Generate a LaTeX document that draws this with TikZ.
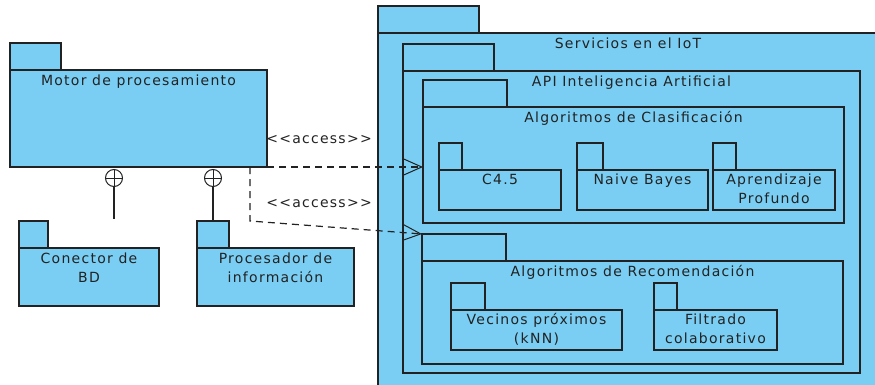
\documentclass[tikz,border=0pt]{standalone}
\usepackage{fontspec}
\setmainfont[LetterSpace=9]{DejaVu Sans}
\usetikzlibrary{arrows.meta, positioning}

\definecolor{pkgblue}{RGB}{122,206,243}
\definecolor{pkgline}{RGB}{34,34,34}

\begin{document}
\begin{tikzpicture}[
    x=1pt, y=-1pt,
    every node/.style={font=\fontsize{14}{19}\selectfont, text=pkgline},
    pkgbody/.style={
        rectangle,
        draw=pkgline,
        fill=pkgblue,
        line width=1.2pt,
        anchor=north west,
        inner sep=0pt,
        outer sep=0pt
    },
    pkgtab/.style={
        rectangle,
        draw=pkgline,
        fill=pkgblue,
        line width=1.2pt,
        anchor=south west,
        inner sep=0pt,
        outer sep=0pt,
        minimum height=27pt
    },
    pkgname/.style={
        anchor=north,
        align=center,
        inner sep=0pt,
        yshift=-4.5pt
    },
    nestcirc/.style={
        circle,
        draw=pkgline,
        line width=1pt,
        minimum size=17pt,
        inner sep=0pt,
        path picture={
            \draw[line width=1pt] (path picture bounding box.north) -- (path picture bounding box.south);
            \draw[line width=1pt] (path picture bounding box.west) -- (path picture bounding box.east);
        }
    },
    access/.style={
        -{Straight Barb[length=18pt, width=16pt, line width=1pt]},
        draw=pkgline,
        line width=1.2pt,
        dash pattern=on 7pt off 5pt
    }
]
\useasboundingbox (0,0) rectangle (875,385);

% left side
\node[pkgbody, minimum width=257pt, minimum height=97pt] (motor) at (10,70) {};
\node[pkgtab, minimum width=51pt] (motor-tab) at (motor.north west) {};
\node[pkgname] (motor-name) at (motor.north) {Motor de procesamiento};

\node[pkgbody, minimum width=140pt, minimum height=58pt] (conector) at (19,248) {};
\node[pkgtab, minimum width=29pt] (conector-tab) at (conector.north west) {};
\node[pkgname] (conector-name) at (conector.north) {Conector de\\BD};

\node[pkgbody, minimum width=157pt, minimum height=58pt] (proc) at (197,248) {};
\node[pkgtab, minimum width=32pt] (proc-tab) at (proc.north west) {};
\node[pkgname] (proc-name) at (proc.north) {Procesador de\\información};

\node[nestcirc] (circ1) at (114,178) {};
\node[nestcirc] (circ2) at (213,178) {};
\coordinate (circ1-end) at (114,219);
\draw[line width=1.2pt, pkgline] (circ1.south) -- (circ1-end);
\draw[line width=1.2pt, pkgline] (circ2.south) -- (proc-tab.north);

% right side
\node[pkgbody, minimum width=500pt, minimum height=362pt] (serv) at (378,33) {};
\node[pkgtab, minimum width=101pt] (serv-tab) at (serv.north west) {};
\node[pkgname] (serv-name) at (serv.north) {Servicios en el IoT};

\node[pkgbody, minimum width=457pt, minimum height=302pt] (api) at (403,71) {};
\node[pkgtab, minimum width=91pt] (api-tab) at (api.north west) {};
\node[pkgname] (api-name) at (api.north) {API Inteligencia Artificial};

\node[pkgbody, minimum width=421pt, minimum height=116pt] (clas) at (423,107) {};
\node[pkgtab, minimum width=84pt] (clas-tab) at (clas.north west) {};
\node[pkgname] (clas-name) at (clas.north) {Algoritmos de Clasificación};

\node[pkgbody, minimum width=122pt, minimum height=40pt] (c45) at (439,170) {};
\node[pkgtab, minimum width=23pt] (c45-tab) at (c45.north west) {};
\node[pkgname, yshift=1pt] (c45-name) at (c45.north) {C4.5};

\node[pkgbody, minimum width=131pt, minimum height=40pt] (bayes) at (577,170) {};
\node[pkgtab, minimum width=26pt] (bayes-tab) at (bayes.north west) {};
\node[pkgname, yshift=1pt] (bayes-name) at (bayes.north) {Naive Bayes};

\node[pkgbody, minimum width=122pt, minimum height=40pt] (deep) at (713,170) {};
\node[pkgtab, minimum width=23pt] (deep-tab) at (deep.north west) {};
\node[pkgname, yshift=1pt] (deep-name) at (deep.north) {Aprendizaje\\Profundo};

\node[pkgbody, minimum width=421pt, minimum height=103pt] (reco) at (422,261) {};
\node[pkgtab, minimum width=84pt] (reco-tab) at (reco.north west) {};
\node[pkgname] (reco-name) at (reco.north) {Algoritmos de Recomendación};

\node[pkgbody, minimum width=171pt, minimum height=40pt] (knn) at (451,310) {};
\node[pkgtab, minimum width=34pt] (knn-tab) at (knn.north west) {};
\node[pkgname, yshift=1pt] (knn-name) at (knn.north) {Vecinos próximos\\(kNN)};

\node[pkgbody, minimum width=123pt, minimum height=40pt] (filt) at (654,310) {};
\node[pkgtab, minimum width=23pt] (filt-tab) at (filt.north west) {};
\node[pkgname, yshift=1pt] (filt-name) at (filt.north) {Filtrado\\colaborativo};

% access dependencies
\coordinate (bend) at (250,221);
\draw[access] (motor.south east) -- (motor.south east -| clas.west);
\draw[access] (motor.south east -| bend) -- (bend) -- (reco-tab.north west);
\node (acc1) at (319,140) {{<}{<}access{>}{>}};
\node (acc2) at (319,204) {{<}{<}access{>}{>}};

\end{tikzpicture}
\end{document}
